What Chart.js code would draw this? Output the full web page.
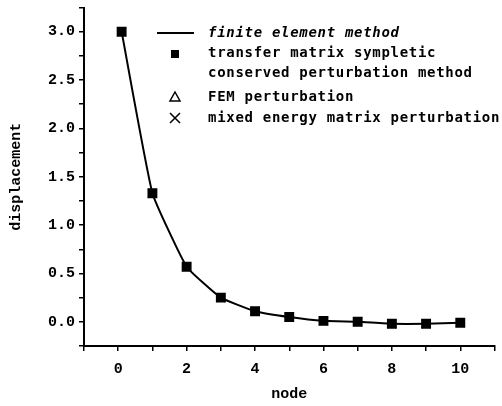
<!DOCTYPE html>
<html>
<head>
<meta charset="utf-8">
<script src="https://cdn.jsdelivr.net/npm/chart.js@4/dist/chart.umd.min.js"></script>
<style>
  html, body { margin: 0; padding: 0; background: #fff; }
  #wrap { width: 502px; height: 406px; }
</style>
</head>
<body>
<div id="wrap"><canvas id="chart"></canvas></div>
<script>
// Displacement along the nodes, four methods compared
const nodes = [0.1, 1, 2, 3, 4, 5, 6, 7, 8, 9, 10];
const femValues = [3.0, 1.33, 0.57, 0.25, 0.11, 0.05, 0.01, 0.0, -0.02, -0.02, -0.01];
const transferValues = [3.0, 1.33, 0.57, 0.25, 0.11, 0.05, 0.01, 0.0, -0.02, -0.02, -0.01];
const femPerturbValues = [3.0, 1.33, 0.57, 0.25, 0.11, 0.05, 0.01, 0.0, -0.02, -0.02, -0.01];
const mixedValues = [3.0, 1.33, 0.57, 0.25, 0.11, 0.05, 0.01, 0.0, -0.02, -0.02, -0.01];

const legendLabels = [
  "finite element method",
  ["transfer matrix sympletic", "conserved perturbation method"],
  "FEM perturbation",
  "mixed energy matrix perturbation",
];

function toPoints(values) {
  return values.map((y, i) => ({ x: nodes[i], y }));
}

// hand drawn legend, the picture has a two-line entry
const legendPlugin = {
  id: "paperLegend",
  afterDraw(chart) {
    const ctx = chart.ctx;
    const markX = 175;
    const textX = 208;
    ctx.save();
    ctx.fillStyle = "#000";
    ctx.strokeStyle = "#000";
    ctx.textBaseline = "middle";
    ctx.textAlign = "left";
    ctx.letterSpacing = "0.7px";

    // line sample
    ctx.lineWidth = 2;
    ctx.beginPath();
    ctx.moveTo(157, 33);
    ctx.lineTo(194, 33);
    ctx.stroke();
    ctx.font = "italic bold 14px 'DejaVu Sans Mono', monospace";
    ctx.fillText(legendLabels[0], textX, 33);

    // filled square
    ctx.fillRect(markX - 4, 54 - 4, 8, 8);
    ctx.font = "bold 14px 'DejaVu Sans Mono', monospace";
    ctx.fillText(legendLabels[1][0], textX, 53);
    ctx.fillText(legendLabels[1][1], textX, 73);

    // open triangle
    ctx.lineWidth = 1.5;
    ctx.beginPath();
    ctx.moveTo(markX, 92);
    ctx.lineTo(markX + 5, 101);
    ctx.lineTo(markX - 5, 101);
    ctx.closePath();
    ctx.stroke();
    ctx.fillText(legendLabels[2], textX, 97);

    // cross
    ctx.beginPath();
    ctx.moveTo(markX - 5, 113);
    ctx.lineTo(markX + 5, 123);
    ctx.moveTo(markX + 5, 113);
    ctx.lineTo(markX - 5, 123);
    ctx.stroke();
    ctx.fillText(legendLabels[3], textX, 118);
    ctx.restore();
  },
};

new Chart(document.getElementById("chart"), {
  type: "scatter",
  data: {
    datasets: [
      {
        label: legendLabels[0],
        data: toPoints(femValues),
        showLine: true,
        borderColor: "#000",
        borderWidth: 2,
        pointRadius: 0,
        tension: 0.12,
      },
      {
        label: legendLabels[1].join(" "),
        data: toPoints(transferValues),
        pointStyle: "rect",
        pointRadius: 7,
        backgroundColor: "#000",
        borderColor: "#000",
        borderWidth: 0,
      },
      {
        label: legendLabels[2],
        data: toPoints(femPerturbValues),
        pointStyle: "triangle",
        pointRadius: 3.5,
        backgroundColor: "rgba(0,0,0,0)",
        borderColor: "#fff",
        borderWidth: 1.2,
      },
      {
        label: legendLabels[3],
        data: toPoints(mixedValues),
        pointStyle: "crossRot",
        pointRadius: 6,
        borderColor: "#000",
        borderWidth: 1.5,
      },
    ],
  },
  options: {
    responsive: true,
    maintainAspectRatio: false,
    animation: false,
    layout: { padding: { top: 7, right: 4, left: 0, bottom: 0 } },
    plugins: {
      legend: { display: false },
      tooltip: { enabled: false },
    },
    scales: {
      x: {
        type: "linear",
        min: -1,
        max: 11,
        afterFit(scale) {
          scale.height = 60;
          scale.paddingLeft = 0;
          scale.paddingRight = 0;
        },
        border: { display: true, color: "#000", width: 2 },
        grid: {
          drawOnChartArea: false,
          drawTicks: true,
          tickLength: 5,
          color: "#000",
          lineWidth: 1.5,
        },
        ticks: {
          stepSize: 1,
          autoSkip: false,
          maxRotation: 0,
          padding: 9,
          color: "#000",
          font: { family: "'Liberation Mono', monospace", size: 15, weight: "bold" },
          callback: (value) => (Math.round(value) % 2 === 0 ? String(value) : ""),
        },
        title: {
          display: true,
          text: "node",
          color: "#000",
          font: { family: "'Liberation Mono', monospace", size: 15, weight: "bold" },
          padding: { top: 4, bottom: 3 },
        },
      },
      y: {
        min: -0.25,
        max: 3.25,
        afterFit(scale) {
          scale.width = 84;
          scale.paddingTop = 0;
          scale.paddingBottom = 0;
        },
        border: { display: true, color: "#000", width: 2 },
        grid: {
          drawOnChartArea: false,
          drawTicks: true,
          tickLength: 5,
          color: "#000",
          lineWidth: 1.5,
        },
        ticks: {
          stepSize: 0.25,
          autoSkip: false,
          padding: 4,
          color: "#000",
          font: { family: "'Liberation Mono', monospace", size: 15, weight: "bold" },
          callback: (value) =>
            Math.abs(Math.round(value * 4) % 2) === 0 ? value.toFixed(1) : "",
        },
        title: {
          display: true,
          text: "displacement",
          color: "#000",
          font: { family: "'Liberation Mono', monospace", size: 15, weight: "bold" },
          padding: { top: 7, bottom: 0 },
        },
      },
    },
  },
  plugins: [legendPlugin],
});
</script>
</body>
</html>
